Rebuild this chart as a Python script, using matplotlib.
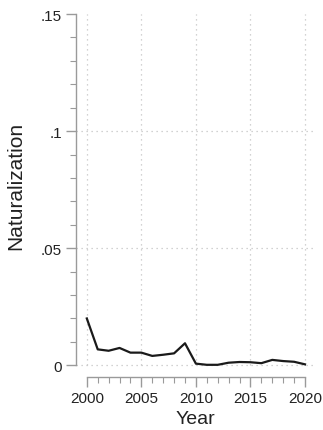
import numpy as np
import matplotlib
matplotlib.use("Agg")
import matplotlib.pyplot as plt
from matplotlib.ticker import FixedLocator

plt.rcParams['font.family'] = ['Liberation Sans', 'DejaVu Sans']

years = list(range(2000, 2021))
naturalization = [0.0200, 0.0068, 0.0062, 0.0074, 0.0054, 0.0054, 0.0040, 0.0045, 0.0051,
                  0.0094, 0.0007, 0.0002, 0.0002, 0.0011, 0.0014, 0.0013, 0.0009, 0.0023,
                  0.0018, 0.0015, 0.0004]
yticks = [0, 0.05, 0.1, 0.15]
ytick_labels = ["0", ".05", ".1", ".15"]
xticks = [2000, 2005, 2010, 2015, 2020]

fig = plt.figure(figsize=(3.23, 4.31), dpi=100)
ax = fig.add_axes([0.235, 0.123, 0.743, 0.842])

axis_col = "#9a9a9a"
grid_col = "#c4c4c4"

# dotted grid
for x in xticks:
    ax.plot([x, x], [0, 0.15], color=grid_col, lw=0.9, ls=(0, (1, 3)), zorder=1)
for y in [0, 0.05, 0.1]:
    ax.plot([1999, 2021], [y, y], color=grid_col, lw=0.9, ls=(0, (1, 3)), zorder=1)

ax.plot(years, naturalization, color="#1a1a1a", lw=1.6, zorder=3)

ax.set_xlim(1999, 2021)
ax.set_ylim(-0.005, 0.15)

for s in ["top", "right"]:
    ax.spines[s].set_visible(False)
ax.spines["left"].set_bounds(0, 0.15)
ax.spines["bottom"].set_bounds(2000, 2020)
for s in ["left", "bottom"]:
    ax.spines[s].set_color(axis_col)
    ax.spines[s].set_linewidth(1.0)

ax.set_yticks(yticks)
ax.set_yticklabels(ytick_labels)
ax.yaxis.set_minor_locator(FixedLocator([i / 100 for i in range(16)]))
ax.set_xticks(xticks)
ax.xaxis.set_minor_locator(FixedLocator(years))

ax.tick_params(axis="both", which="major", length=7, width=1.0, color=axis_col,
               labelsize=11, labelcolor="#222222", pad=3)
ax.tick_params(axis="both", which="minor", length=4, width=0.8, color=axis_col)

ax.set_xlabel("Year", fontsize=14, color="#222222", labelpad=4)
ax.set_ylabel("Naturalization", fontsize=15, color="#222222")
ax.yaxis.set_label_coords(-0.21, 0.53)

fig.savefig("out.png", dpi=100)
